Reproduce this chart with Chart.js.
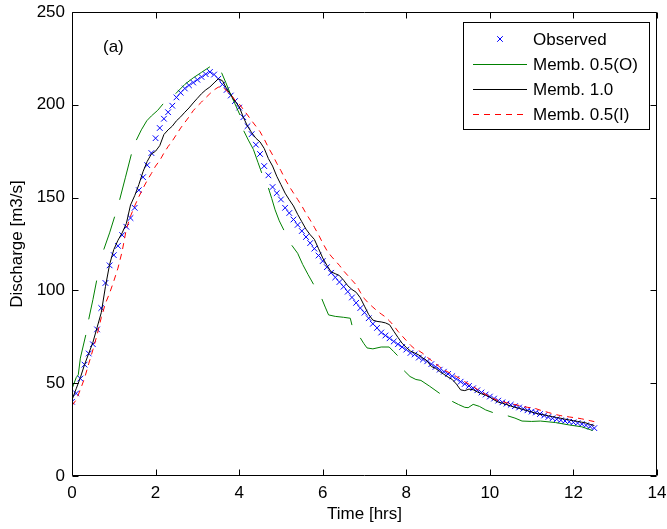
<!DOCTYPE html>
<html><head><meta charset="utf-8">
<script src="https://cdn.jsdelivr.net/npm/chart.js@4.4.1/dist/chart.umd.min.js"></script>
<style>html,body{margin:0;padding:0;background:#fff}#wrap{width:667px;height:529px;position:relative}</style>
</head><body><div id="wrap"><canvas id="c"></canvas></div>
<script>
// ---- data ----
const timeHrs = [0,0.1,0.2,0.3,0.4,0.5,0.6,0.7,0.8,0.9,
 1,1.1,1.2,1.3,1.4,1.5,1.6,1.7,1.8,1.9,
 2,2.1,2.2,2.3,2.4,2.5,2.6,2.7,2.8,2.9,
 3,3.1,3.2,3.3,3.4,3.5,3.6,3.7,3.8,3.9,
 4,4.1,4.2,4.3,4.4,4.5,4.6,4.7,4.8,4.9,
 5,5.1,5.2,5.3,5.4,5.5,5.6,5.7,5.8,5.9,
 6,6.1,6.2,6.3,6.4,6.5,6.6,6.7,6.8,6.9,
 7,7.1,7.2,7.3,7.4,7.5,7.6,7.7,7.8,7.9,
 8,8.1,8.2,8.3,8.4,8.5,8.6,8.7,8.8,8.9,
 9,9.1,9.2,9.3,9.4,9.5,9.6,9.7,9.8,9.9,
 10,10.1,10.2,10.3,10.4,10.5,10.6,10.7,10.8,10.9,
 11,11.1,11.2,11.3,11.4,11.5,11.6,11.7,11.8,11.9,
 12,12.1,12.2,12.3,12.4,12.5];

const observed = [40,44.5,52.5,60,66,71,79,90.5,104,113.5,
 119,124,129.8,134.3,139,144.5,154,161,167.5,174,
 182,187.5,192.5,196,199.5,204,206.5,208.8,210.5,212,
 213.5,215,216.5,217.7,216.3,214,211,208,205,202,
 198.5,193.3,188.5,184.2,178.5,173.5,167,162,155.7,152.4,
 149,144.5,141.7,138.2,135.3,132,128.8,125.5,122.5,118.8,
 115.8,112.5,109.5,107,104.5,102,99.3,96.2,93.3,90.5,
 88,85,82,79.8,77.3,75.7,74.2,72.5,71,69.5,
 68.1,66.3,65.5,63.8,62.8,61.8,60.3,58.8,57.3,56.2,
 55,53.8,52.3,50.8,49.6,48.5,47.3,46.2,45,43.9,
 42.8,41.7,40.6,39.7,39,38.4,37.6,36.9,36.2,35.4,
 34.7,34.2,33.4,32.6,31.8,31.1,30.6,30,29.6,29.2,
 28.9,28.5,28,27.3,26.6,25.8];

const memb10 = [41,47,53,60,66,72,80,88,102,114,
 122,127,131,136,146,151,157,164,169.5,173.5,
 175,178,184,186.5,188.5,191.4,193.5,196,198.3,201,
 203.5,206,208,209.6,211.8,214,213,208.7,205.5,202,
 199,193.3,188.5,185,182,180,176.5,171,167,161.5,
 157,152.4,148.8,145.5,141,137,133,130,127.5,122.5,
 117.5,113.5,110,109,108,105.5,102.5,100.5,99,96,
 91.5,87,84,83.3,83,82.5,81.5,78,74.7,71.5,
 69.3,67.3,66.3,65.2,63.5,62,59,58,56.3,54.8,
 53.3,52,49.5,46.4,46,46.8,46.5,45.3,44.3,43.5,
 42.5,41,39.8,39.2,38.5,37.7,37,36.5,35.8,35.2,
 34.5,33.8,33.3,32.9,32.4,32,31.5,31.1,30.6,30.2,
 29.8,29.4,29,28.6,27.8,27.2];

const memb05I = [38,41,46.5,52.7,60.5,68,76,85.3,93,98.5,
 105,112,121,133,140,145.5,150.5,155,159.3,163,
 167,170,174,177.5,180.5,184,187.5,190.5,193.5,196.8,
 199.3,201.5,203.8,206,208,209.5,209.8,207.5,205.5,202.5,
 200.5,197.5,194.5,191.4,188.5,185.5,181.5,177,173,168.5,
 164.5,160,156,152.5,149,145.5,141.5,137.9,134,130,
 125.5,121.5,118.5,116,113.5,110.5,108,105.5,103,99,
 95.5,93,91,89,87.3,85.7,83.5,81,78,75.5,
 73,70.5,68.5,67.5,66,64,62.3,60.5,58.8,57.2,
 56,54.8,53.6,52.2,50.8,49.5,48.2,46.7,45.2,44,
 42.8,41.6,40.6,40,39.5,39,38.5,38,37.4,37,
 36.7,36.3,35.5,34.9,34.2,33.6,33,32.5,32.2,31.8,
 31.5,31.2,30.8,30.3,29.8,29.3];

// Memb. 0.5(O): broken line, null marks a gap
const memb05OTime = [0,0.1,0.15,0.2,0.33, 0.365, 0.40,0.5,0.59, 0.68, 0.76,0.9,1.02, 1.08, 1.14,1.28,1.42, 1.48,
 1.54,1.66,1.79,1.9,2.05,2.18, 2.33, 2.48,2.7,2.9,3.1,3.3, 3.44, 3.58,3.68,3.78,3.9,4.02, 4.06,
 4.11,4.22,4.34,4.45,4.54, 4.62, 4.70,4.78,4.86,4.96,5.07, 5.16, 5.26,5.40,5.52,5.65,5.78, 5.88,
 5.98,6.06,6.14,6.3,6.5,6.66,6.70, 6.80, 6.90,6.98,7.06,7.2,7.4,7.59,7.70,7.79, 7.87,
 7.95,8.09,8.23,8.35,8.55,8.80, 8.95, 9.10,9.25,9.40,9.48,9.60,9.75,9.9,10.07, 10.25,
 10.43,10.6,10.77,11.0,11.21,11.57,11.9,12.2,12.46];
const memb05O = [47,53,54.5,63.5,76, null, 84.4,95,105.3, null, 122,131,139.7, null, 148.8,161,173.3, null,
 181,186.5,191.4,194,197,200.5, null, 206,211,214.5,217.5,220.5, null, 217.3,212,206.5,200.5,194.5, null,
 186,181,176,169,163.3, null, 155.2,149.5,143.4,137.5,132.5, null, 124.3,120,114,108.5,103.3, null,
 95.4,91,86.8,86,85.5,85,81.3, null, 74.4,71.5,69,68.5,69.5,69.5,67,64.9, null,
 56.7,53.6,52,51.5,48.5,44.5, null, 40.2,38.5,37,36.8,38.6,37.5,35.6,34.2, null,
 32.4,31.2,29.6,29.4,29.6,28.8,27.5,26.5,24.5];

const seriesLabels = ['Observed','Memb. 0.5(O)','Memb. 1.0','Memb. 0.5(I)'];
const seriesColors = ['#0000ff','#008000','#000000','#ff0000'];
const xTicks = [0,2,4,6,8,10,12,14];
const yTicks = [0,50,100,150,200,250];
const panelLabel = '(a)';

// ---- build ----
const pts = (xs, ys) => xs.map((t, i) => ({x: t, y: ys[i]}));
const FONT = 'Liberation Sans, Arial, sans-serif';

const datasets = [
  {label: seriesLabels[0], data: pts(timeHrs, observed), showLine: false,
   pointStyle: 'crossRot', pointRadius: 4, pointBorderColor: seriesColors[0], pointBorderWidth: 1,
   pointBackgroundColor: seriesColors[0], order: 3},
  {label: seriesLabels[1], data: pts(memb05OTime, memb05O), showLine: true, spanGaps: false,
   borderColor: seriesColors[1], borderWidth: 1, pointRadius: 0, order: 2},
  {label: seriesLabels[2], data: pts(timeHrs, memb10), showLine: true,
   borderColor: seriesColors[2], borderWidth: 1, pointRadius: 0, order: 1},
  {label: seriesLabels[3], data: pts(timeHrs, memb05I), showLine: true,
   borderColor: seriesColors[3], borderWidth: 1, borderDash: [6, 5], pointRadius: 0, order: 0}
];

const framePlugin = {
  id: 'frame',
  afterDraw(chart) {
    const {ctx, chartArea: a, scales: {x, y}} = chart;
    ctx.save();
    ctx.strokeStyle = '#000'; ctx.lineWidth = 1;
    const L = Math.round(a.left) + 0.5, R = Math.round(a.right) - 0.5;
    const T = Math.round(a.top) + 0.5, B = Math.round(a.bottom) - 0.5;
    ctx.beginPath();
    ctx.rect(L, T, R - L, B - T);
    const tl = 6;
    xTicks.forEach(v => {
      const px = Math.round(x.getPixelForValue(v)) + 0.5;
      ctx.moveTo(px, B); ctx.lineTo(px, B - tl);
      ctx.moveTo(px, T); ctx.lineTo(px, T + tl);
    });
    yTicks.forEach(v => {
      const py = Math.round(y.getPixelForValue(v)) + 0.5;
      ctx.moveTo(L, py); ctx.lineTo(L + tl, py);
      ctx.moveTo(R, py); ctx.lineTo(R - tl, py);
    });
    ctx.stroke();

    // panel label
    ctx.fillStyle = '#000';
    ctx.font = '17px ' + FONT;
    ctx.textBaseline = 'middle'; ctx.textAlign = 'left';
    ctx.fillText(panelLabel, a.left + 31, a.top + 35);

    // legend box
    const bw = 186, bh = 107;
    const bx = Math.round(a.right) - 8 - bw, by = Math.round(a.top) + 10;
    ctx.fillStyle = '#fff';
    ctx.fillRect(bx, by, bw, bh);
    ctx.strokeStyle = '#000';
    ctx.strokeRect(bx + 0.5, by + 0.5, bw, bh);
    chart.data.datasets.forEach((ds, i) => {
      const cy = by + 17 + i * 25;
      const x0 = bx + 10, x1 = bx + 64, cx = (x0 + x1) / 2;
      ctx.save();
      if (i === 0) {
        ctx.strokeStyle = seriesColors[i]; ctx.lineWidth = 1;
        const r = 2.8;
        ctx.beginPath();
        ctx.moveTo(cx - r, cy - r); ctx.lineTo(cx + r, cy + r);
        ctx.moveTo(cx - r, cy + r); ctx.lineTo(cx + r, cy - r);
        ctx.stroke();
      } else {
        ctx.strokeStyle = seriesColors[i]; ctx.lineWidth = 1;
        ctx.setLineDash(ds.borderDash || []);
        ctx.beginPath();
        ctx.moveTo(x0, Math.round(cy) + 0.5); ctx.lineTo(x1, Math.round(cy) + 0.5);
        ctx.stroke();
      }
      ctx.restore();
      ctx.fillStyle = '#000';
      ctx.font = '17px ' + FONT;
      ctx.textBaseline = 'middle'; ctx.textAlign = 'left';
      ctx.fillText(ds.label, bx + 70, cy + 1);
    });
    ctx.restore();
  }
};

new Chart(document.getElementById('c'), {
  type: 'scatter',
  data: {datasets},
  options: {
    responsive: true, maintainAspectRatio: false, animation: false, devicePixelRatio: 1,
    layout: {padding: {left: 3, right: 10, top: 12, bottom: 0}},
    plugins: {legend: {display: false}, tooltip: {enabled: false}},
    scales: {
      x: {
        type: 'linear', position: 'bottom', min: 0, max: 14,
        afterBuildTicks: s => { s.ticks = xTicks.map(v => ({value: v})); },
        ticks: {font: {family: FONT, size: 17}, color: '#000', padding: 7, maxRotation: 0, autoSkip: false},
        grid: {display: false, drawTicks: false},
        border: {display: false},
        title: {display: true, text: 'Time [hrs]', color: '#000', font: {family: FONT, size: 17}, padding: {top: 4, bottom: 4}},
        afterFit: s => { s.height = 53; s.paddingLeft = 0; s.paddingRight = 0; }
      },
      y: {
        type: 'linear', position: 'left', min: 0, max: 250,
        afterBuildTicks: s => { s.ticks = yTicks.map(v => ({value: v})); },
        ticks: {font: {family: FONT, size: 17}, color: '#000', padding: 7},
        grid: {display: false, drawTicks: false},
        border: {display: false},
        title: {display: true, text: 'Discharge [m3/s]', color: '#000', font: {family: FONT, size: 17}, padding: {top: 4, bottom: 4}},
        afterFit: s => { s.width = 69; s.paddingTop = 0; s.paddingBottom = 0; }
      }
    }
  },
  plugins: [framePlugin]
});
</script></body></html>
